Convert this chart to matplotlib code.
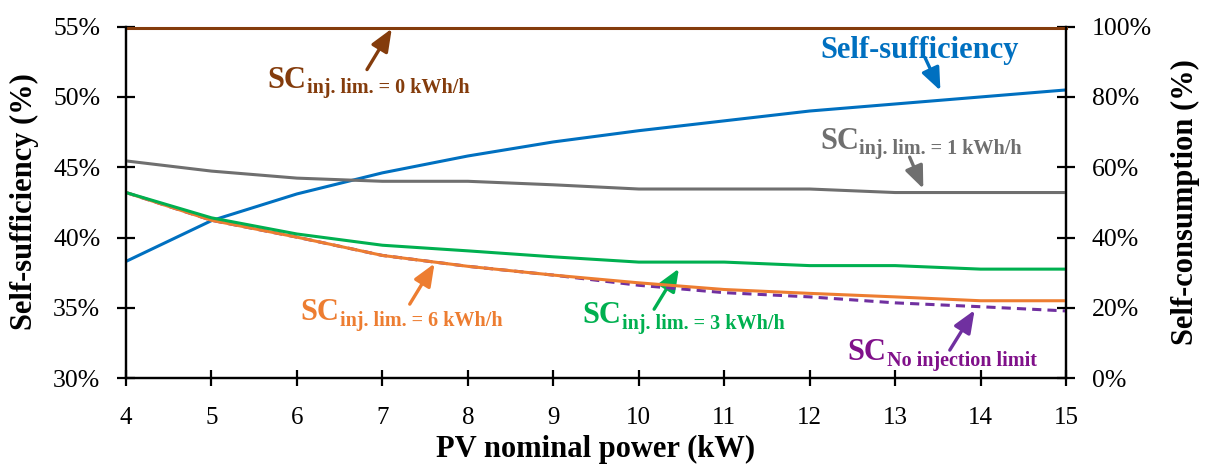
import matplotlib
matplotlib.use("Agg")
import matplotlib.pyplot as plt
from matplotlib.ticker import FuncFormatter

plt.rcParams['font.family'] = ['Liberation Serif', 'DejaVu Serif']

# PV nominal power (kW)
pv_power = [4, 5, 6, 7, 8, 9, 10, 11, 12, 13, 14, 15]
# self-sufficiency (%), left axis
self_sufficiency = [38.3, 41.2, 43.1, 44.6, 45.8, 46.8, 47.6, 48.3, 49.0, 49.5, 50.0, 50.5]
# self-consumption (%), right axis
sc_lim0 = [99.6, 99.6, 99.6, 99.6, 99.6, 99.6, 99.6, 99.6, 99.6, 99.6, 99.6, 99.6]
sc_lim1 = [61.8, 58.9, 56.9, 56.0, 56.0, 55.0, 53.8, 53.8, 53.8, 52.8, 52.8, 52.8]
sc_lim3 = [52.8, 45.6, 41.0, 37.8, 36.2, 34.5, 33.0, 33.0, 32.0, 32.0, 31.0, 31.0]
sc_lim6 = [52.8, 44.9, 40.1, 34.9, 31.8, 29.3, 27.1, 25.2, 24.1, 23.1, 22.0, 22.0]
sc_nolim = [52.8, 44.9, 40.1, 34.9, 31.8, 29.3, 26.4, 24.3, 23.1, 21.4, 20.3, 19.1]

C_BLUE = '#0070C0'
C_GRAY = '#6F6F6F'
C_GREEN = '#00B050'
C_ORANGE = '#ED7D31'
C_PURPLE = '#7030A0'
C_PURPLE_TXT = '#80108A'
C_BROWN = '#843C0C'

fig = plt.figure(figsize=(12.07, 4.65), dpi=100)
ax = fig.add_axes([0.1044, 0.187, 0.7788, 0.7556])
ax2 = ax.twinx()

lw = 2.2
ax.plot(pv_power, self_sufficiency, color=C_BLUE, lw=lw)
ax2.plot(pv_power, sc_nolim, color=C_PURPLE, lw=lw, linestyle=(0, (3, 2)))
ax2.plot(pv_power, sc_lim6, color=C_ORANGE, lw=lw)
ax2.plot(pv_power, sc_lim3, color=C_GREEN, lw=lw)
ax2.plot(pv_power, sc_lim1, color=C_GRAY, lw=lw)
ax2.plot(pv_power, sc_lim0, color=C_BROWN, lw=lw, clip_on=False)

ax.set_xlim(4, 15)
ax.set_ylim(30, 55)
ax2.set_ylim(0, 100)
ax.set_xticks(pv_power)
ax.set_yticks([30, 35, 40, 45, 50, 55])
ax2.set_yticks([0, 20, 40, 60, 80, 100])
pct = FuncFormatter(lambda v, p: f'{v:.0f}%')
ax.yaxis.set_major_formatter(pct)
ax2.yaxis.set_major_formatter(pct)

for a in (ax, ax2):
    for s in a.spines.values():
        s.set_linewidth(1.6)
    a.spines['top'].set_visible(False)
ax.tick_params(axis='x', direction='inout', length=11, width=1.6, labelsize=18, pad=15)
ax.tick_params(axis='y', direction='inout', length=13, width=1.6, labelsize=18.5, pad=12)
ax2.tick_params(axis='y', direction='inout', length=13, width=1.6, labelsize=18.5, pad=12)

fig.text(24 / 1207, 1 - 202 / 465, 'Self-sufficiency (%)', rotation=90,
         ha='center', va='center', fontsize=22, fontweight='bold')
fig.text(1185 / 1207, 1 - 202 / 465, 'Self-consumption (%)', rotation=90,
         ha='center', va='center', fontsize=22, fontweight='bold')
fig.text(0.4938, 1 - 449 / 465, 'PV nominal power (kW)', ha='center', va='center',
         fontsize=22, fontweight='bold')


def arrow(tail, tip, color):
    ax.annotate('', xy=tip, xytext=tail,
                arrowprops=dict(arrowstyle='-|>,head_length=0.8,head_width=0.33',
                                lw=2.4, color=color, mutation_scale=17,
                                shrinkA=0, shrinkB=0), zorder=5)


def sc_label(x, y, sub, color):
    main = ax.text(x, y, 'SC', color=color, fontsize=22, fontweight='bold',
                   va='baseline', ha='left', zorder=6)
    ax.annotate(sub, xy=(1, 0), xycoords=main, xytext=(0.5, 1),
                textcoords='offset points', color=color, fontsize=14.5,
                fontweight='bold', va='baseline', ha='left', zorder=6)


sc_label(5.65, 50.67, 'inj. lim. = 0 kWh/h', C_BROWN)
arrow((6.82, 51.95), (7.11, 54.86), C_BROWN)

ax.text(12.12, 52.78, 'Self-sufficiency', color=C_BLUE, fontsize=22,
        fontweight='bold', va='baseline', ha='left')
arrow((13.35, 52.8), (13.53, 50.45), C_BLUE)

sc_label(12.12, 46.31, 'inj. lim. = 1 kWh/h', C_GRAY)
arrow((13.17, 45.72), (13.33, 43.47), C_GRAY)

sc_label(6.04, 34.12, 'inj. lim. = 6 kWh/h', C_ORANGE)
arrow((7.32, 35.26), (7.61, 38.15), C_ORANGE)

sc_label(9.34, 33.9, 'inj. lim. = 3 kWh/h', C_GREEN)
arrow((10.18, 34.9), (10.47, 37.79), C_GREEN)

sc_label(12.44, 31.28, 'No injection limit', C_PURPLE_TXT)
arrow((13.64, 31.99), (13.93, 34.83), C_PURPLE)

fig.savefig('out.png', dpi=100)
